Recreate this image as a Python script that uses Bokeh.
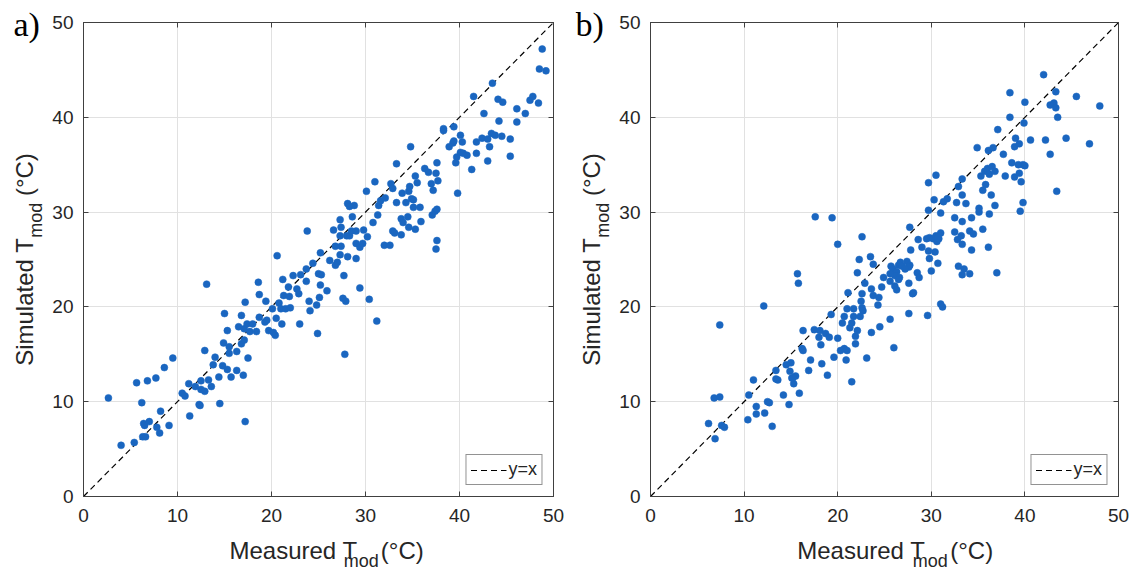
import math
from bokeh.plotting import figure
from bokeh.layouts import row, column
from bokeh.models import Range1d, FixedTicker, LinearAxis
from bokeh.core.properties import value
from bokeh.embed import file_html
from bokeh.resources import INLINE

# ---------------- data ----------------
a_measured = [2.65, 4.0, 5.4, 5.65, 6.2, 6.4, 6.5, 6.3, 6.6, 6.8, 7.0, 7.7, 7.8, 8.1, 8.2, 8.6, 9.1, 9.5,
              10.5, 10.8, 11.2, 11.3, 11.9, 12.3, 12.4, 12.5, 12.5, 12.9, 12.9, 13.1, 13.3, 13.6, 13.8, 14.0,
              14.4, 14.5, 14.8, 14.9, 15.0, 15.3, 15.3, 15.5, 15.5, 15.7, 16.3, 16.3, 16.5, 16.8, 16.8, 17.0,
              17.1, 17.1, 17.2, 17.2, 17.4, 17.5, 17.7, 18.0, 18.4, 18.6, 18.7, 18.7, 19.3, 19.4, 19.5, 19.7,
              20.1, 20.2, 20.4, 20.5, 20.8, 21.0, 21.1, 21.2, 21.3, 21.5, 21.8, 21.9, 22.0, 22.3, 22.7, 22.9,
              23.0, 23.1, 23.7, 24.0, 24.1, 24.8, 24.9, 25.0,
              20.6, 23.8, 23.7, 24.4, 25.2, 25.3, 25.2, 25.9, 25.1, 26.2, 26.6, 27.0, 26.8, 27.3, 27.4, 27.3,
              26.8, 27.3, 27.4, 27.7, 28.1, 28.3, 28.8, 28.6, 28.0, 28.3, 28.5, 29.0, 28.1, 29.0, 29.0, 29.4,
              29.7, 29.8, 30.2, 30.1, 31.0, 29.4, 30.4, 27.6, 27.9, 27.8, 31.2, 30.8, 31.3, 31.4, 31.6, 32.1,
              32.0, 32.6, 32.7, 32.9, 33.3, 33.3, 32.9, 33.1, 33.8, 33.9, 33.8, 34.0, 34.3, 34.6, 34.7, 34.5,
              34.6, 34.8, 34.9, 35.1, 35.1, 35.3, 35.3, 35.5, 35.8, 35.9, 36.3, 36.7, 37.0, 37.2, 37.1, 37.4,
              37.6, 37.5, 37.7, 37.6, 37.6, 37.5, 38.3, 38.9, 39.3, 39.4, 39.7, 39.6, 39.8,
              48.8, 48.5, 49.2, 43.5, 41.5, 44.1, 44.6, 47.5, 47.8, 48.4, 46.1, 47.0, 42.6, 44.2, 46.1, 38.3,
              39.4, 40.1, 40.3, 40.1, 40.4, 40.8, 41.3, 41.8, 41.8, 42.4, 43.0, 43.4, 43.8, 43.2, 43.0, 44.5,
              45.4, 45.4]
a_simulated = [10.4, 5.4, 5.7, 12.0, 9.9, 7.7, 7.5, 6.3, 6.3, 12.2, 7.9, 12.5, 7.3, 6.7, 9.0, 13.6, 7.5, 14.6,
               10.9, 10.6, 11.9, 8.5, 11.6, 9.7, 9.6, 12.2, 11.3, 15.4, 11.1, 22.4, 12.3, 11.6, 13.9, 14.7,
               12.6, 9.8, 13.8, 16.2, 19.3, 17.5, 13.4, 15.8, 15.1, 12.6, 13.3, 15.3, 17.9, 19.1, 16.1, 12.8,
               17.7, 16.5, 7.9, 20.5, 18.2, 14.6, 17.4, 18.2, 17.4, 22.6, 21.3, 18.9, 18.4, 20.6, 18.6, 17.5,
               19.8, 17.3, 17.0, 18.8, 20.4, 19.8, 18.2, 22.9, 21.2, 19.8, 22.1, 21.1, 19.9, 23.3, 21.9, 21.4,
               18.2, 23.4, 22.7, 20.6, 19.6, 20.2, 17.2, 23.5,
               25.4, 28.0, 24.0, 24.6, 25.7, 23.4, 22.3, 21.7, 21.0, 24.9, 28.1, 24.7, 24.4, 29.2, 28.4, 27.5,
               26.4, 25.5, 26.4, 23.3, 30.9, 30.6, 30.7, 29.5, 27.5, 27.5, 28.0, 28.0, 25.3, 25.1, 26.7, 26.3,
               26.7, 28.1, 27.4, 32.2, 33.2, 22.0, 20.8, 20.9, 20.6, 15.0, 18.5, 28.9, 29.7, 30.7, 31.2, 31.5,
               26.5, 26.5, 33.0, 32.5, 31.0, 35.1, 28.0, 27.8, 29.3, 32.0, 27.6, 28.9, 31.0, 32.2, 32.7, 29.5,
               28.4, 36.9, 31.4, 31.3, 30.5, 28.2, 33.8, 33.1, 30.5, 29.0, 34.6, 34.2, 33.0, 32.3, 29.7, 30.1,
               30.3, 34.1, 33.3, 35.2, 27.0, 26.1, 38.6, 36.9, 37.3, 37.5, 35.8, 35.2, 32.0,
               47.2, 45.1, 44.9, 43.6, 42.2, 41.9, 41.6, 41.8, 42.2, 41.5, 40.9, 40.4, 40.4, 39.6, 39.5, 38.8,
               39.0, 38.1, 37.4, 36.3, 36.2, 36.0, 34.5, 36.2, 37.4, 37.8, 37.7, 38.3, 38.1, 36.9, 35.4, 38.0,
               37.7, 35.9]

b_measured = [6.2, 6.9, 6.8, 7.4, 7.4, 7.6, 7.9, 10.4, 10.5, 11.0, 11.3, 11.3, 12.1, 12.2, 12.5, 12.7, 13.0,
              13.4, 13.6, 13.4, 14.2, 14.5, 14.8, 15.0, 14.9, 15.1, 15.3, 15.5, 15.2, 15.7, 15.8, 15.9, 16.2,
              16.3, 16.3, 16.9, 17.1, 17.5, 18.1, 18.0, 18.2, 18.3, 18.7, 18.9, 19.1, 19.3, 19.6, 20.0, 20.3,
              20.7, 21.0, 20.9, 21.5, 20.5, 20.7, 21.0, 21.1, 21.3, 21.5, 21.7, 21.7, 21.9, 21.9, 22.1, 22.3,
              22.1, 22.4, 22.5, 22.6, 22.6, 22.7, 22.9, 23.1, 23.5, 23.8, 23.6, 23.6, 23.8, 24.3, 24.4, 24.5,
              24.7, 24.9, 17.6,
              19.4, 20.0, 22.6, 25.7, 25.9, 26.5, 26.7, 26.9, 27.4, 27.7, 27.6, 27.2, 26.3, 26.1, 26.6, 26.5,
              25.6, 25.6, 26.1, 26.3, 27.6, 28.0, 28.1, 28.5, 28.7, 28.6, 27.8, 27.7, 29.0, 29.5, 29.8, 29.7,
              29.8, 30.2, 30.5, 30.6, 30.8, 31.0, 30.7, 30.4, 30.7, 30.0, 29.7, 30.3, 29.7, 30.5, 31.3, 31.7,
              31.0, 31.0, 31.2, 29.6, 27.6, 25.6, 26.0, 32.5, 33.3, 32.5, 33.2, 32.8, 33.3, 34.3, 34.1, 34.5,
              34.3, 32.9, 33.5, 33.3, 34.1, 35.5, 36.1, 37.0, 32.7, 32.9, 33.3, 33.3, 33.7, 35.1, 35.1, 35.3,
              35.5, 35.8, 36.4, 36.8, 36.2, 35.7, 36.0, 36.2, 36.5, 36.8, 37.9, 37.7, 38.6, 38.9, 39.3, 39.4,
              39.6, 39.5, 39.8, 39.8, 38.9, 39.4, 34.9, 36.1, 36.6,
              42.0, 38.4, 40.0, 43.3, 45.5, 48.0, 42.7, 43.1, 43.3, 43.5, 38.4, 39.9, 37.1, 39.0, 40.6, 42.2,
              44.4, 46.9, 42.7, 43.4, 40.0]
b_simulated = [7.7, 6.1, 10.4, 10.5, 18.1, 7.5, 7.3, 8.1, 10.7, 12.3, 9.5, 8.7, 20.1, 8.8, 10.0, 9.9, 7.4,
               13.3, 12.3, 12.4, 10.7, 13.9, 9.7, 14.1, 13.2, 12.5, 11.9, 12.7, 12.5, 23.5, 22.5, 10.9, 15.6,
               17.5, 15.4, 13.3, 14.4, 17.6, 17.5, 16.8, 16.0, 14.0, 17.2, 12.8, 16.8, 19.2, 14.7, 16.7, 15.4,
               15.6, 15.4, 14.4, 12.1, 18.3, 19.0, 19.8, 21.5, 17.8, 18.3, 19.8, 19.0, 16.9, 16.1, 23.6, 25.0,
               17.5, 19.0, 20.6, 21.4, 19.9, 19.6, 22.5, 14.6, 25.3, 24.5, 21.9, 17.3, 21.2, 20.2, 21.0, 17.9,
               22.1, 23.1, 29.5,
               29.4, 26.6, 27.4, 24.3, 24.0, 24.4, 24.7, 24.3, 24.8, 24.4, 24.2, 24.0, 23.7, 23.3, 23.1, 22.9,
               23.5, 22.7, 22.2, 21.8, 22.5, 21.4, 21.5, 23.6, 23.1, 27.1, 26.0, 28.4, 26.3, 27.2, 25.1, 25.9,
               27.3, 27.2, 27.5, 26.9, 27.2, 27.8, 27.3, 25.8, 24.6, 23.8, 30.2, 31.3, 33.1, 33.9, 31.1, 31.4,
               29.9, 20.3, 20.0, 19.1, 19.3, 18.7, 15.7, 29.4, 29.0, 27.9, 27.5, 27.1, 26.6, 26.0, 28.0, 27.7,
               29.4, 24.3, 24.0, 23.4, 23.5, 28.2, 26.3, 23.6, 31.0, 32.7, 31.8, 33.5, 30.9, 30.4, 30.0, 33.8,
               32.3, 32.9, 31.8, 30.7, 29.8, 34.3, 34.6, 34.0, 34.8, 34.3, 33.8, 36.1, 35.2, 33.7, 35.0, 34.1,
               33.2, 30.1, 31.0, 35.0, 36.9, 37.2, 36.8, 36.5, 36.8,
               44.5, 42.6, 41.6, 42.7, 42.2, 41.2, 41.3, 41.5, 41.0, 40.0, 40.0, 39.4, 38.7, 37.8, 37.6, 37.6,
               37.8, 37.2, 36.1, 32.2, 34.9]

axis_ticks = [0, 10, 20, 30, 40, 50]
identity_line = [0, 50]
panel_letters = ["a)", "b)"]
x_label_parts = ["Measured T", "mod", "(°C)"]
y_label_parts = ["Simulated T", "mod", "(°C)"]
legend_text = "y=x"

# ---------------- style ----------------
BLUE = "#1a66c0"
AX = "#404040"
TXT = "#262626"
FONT = "Liberation Sans"
F_MAIN = 24
F_SUB = 18
F_TICK = 19
TOTAL_H = 575
TOP = 22
FRAME_H = 474
BOTTOM = 36
MAIN_H = TOP + FRAME_H + BOTTOM
STRIP_H = TOTAL_H - MAIN_H
K = 0.36  # empirical baseline correction (fraction of font size)

ARIAL = {"M": 833, "e": 556, "a": 556, "s": 500, "u": 556, "r": 333, "d": 556, " ": 278, "T": 611,
         "m": 833, "o": 556, "(": 333, "°": 400, "C": 722, ")": 333, "S": 667, "i": 222, "l": 222,
         "t": 278}


def tw(s, size):
    return sum(ARIAL.get(c, 556) for c in s) / 1000.0 * size


def blank(width, height):
    f = figure(width=width, height=height, output_backend="svg", toolbar_location=None,
               x_range=Range1d(0, width), y_range=Range1d(0, height),
               x_axis_type=None, y_axis_type=None)
    f.min_border = 0
    f.outline_line_color = None
    f.background_fill_color = "white"
    f.border_fill_color = "white"
    return f


def txt(f, x, y, s, size, font=FONT, color=TXT, angle=0.0):
    f.text(x=[x], y=[y], text=[s], text_font=value(font), text_font_size=value(f"{size}px"),
           text_color=color, text_align="left", text_baseline="alphabetic", angle=angle)


def main_panel(xs, ys, border_right, frame_w):
    p = figure(width=35 + frame_w + border_right, height=MAIN_H, output_backend="svg",
               toolbar_location=None, x_range=Range1d(0, 50), y_range=Range1d(0, 50))
    p.min_border_left = 35
    p.min_border_right = border_right
    p.min_border_top = TOP
    p.min_border_bottom = BOTTOM
    p.background_fill_color = "white"
    p.border_fill_color = "white"
    p.outline_line_color = AX
    p.outline_line_width = 1

    for ax in (p.xaxis[0], p.yaxis[0]):
        ax.ticker = FixedTicker(ticks=axis_ticks)
        ax.major_tick_in = 5
        ax.major_tick_out = 0
        ax.minor_tick_line_color = None
        ax.axis_line_color = AX
        ax.major_tick_line_color = AX
        ax.major_label_text_font = FONT
        ax.major_label_text_font_size = f"{F_TICK}px"
        ax.major_label_text_color = TXT
    p.xaxis[0].major_label_standoff = 12
    p.yaxis[0].major_label_standoff = 10
    for place in ("above", "right"):
        ax2 = LinearAxis(ticker=FixedTicker(ticks=axis_ticks), major_tick_in=5, major_tick_out=0,
                         minor_tick_line_color=None, axis_line_color=AX,
                         major_tick_line_color=AX, major_label_text_color=None,
                         major_label_standoff=0)
        p.add_layout(ax2, place)

    p.xgrid.ticker = FixedTicker(ticks=axis_ticks)
    p.ygrid.ticker = FixedTicker(ticks=axis_ticks)
    p.xgrid.grid_line_color = "#e1e1e1"
    p.ygrid.grid_line_color = "#e1e1e1"

    p.line(identity_line, identity_line, line_color="black", line_dash="6 4", line_width=1.2,
           legend_label=legend_text)
    p.scatter(xs, ys, size=7, fill_color=BLUE, line_color=BLUE, line_width=0.5)

    lg = p.legend[0]
    lg.location = "bottom_right"
    lg.margin = 11
    lg.padding = 4
    lg.spacing = 0
    lg.glyph_width = 36
    lg.glyph_height = 18
    lg.label_height = 18
    lg.label_standoff = 2
    lg.label_text_font = FONT
    lg.label_text_font_size = "18px"
    lg.label_text_color = TXT
    lg.border_line_color = TXT
    lg.border_line_width = 1
    lg.background_fill_alpha = 1.0
    return p


def left_strip(width, letter, letter_x, base_x):
    f = blank(width, TOTAL_H)
    txt(f, letter_x, TOTAL_H - 36 + K * 34, letter, 34, font="Liberation Serif", color="black")
    center = TOTAL_H - (TOP + FRAME_H / 2)
    sp = tw(" ", F_MAIN)
    tot = tw(y_label_parts[0], F_MAIN) + tw(y_label_parts[1], F_SUB) + sp + tw(y_label_parts[2], F_MAIN)
    yy = center - tot / 2
    for s, fs, dx, gap in [(y_label_parts[0], F_MAIN, 0, 0), (y_label_parts[1], F_SUB, 9, sp),
                           (y_label_parts[2], F_MAIN, 0, 0)]:
        txt(f, base_x + dx - K * fs, yy, s, fs, angle=math.pi / 2)
        yy += tw(s, fs) + gap
    return f


def bottom_strip(width, center_x):
    f = blank(width, STRIP_H)
    sp = tw(" ", F_MAIN)
    tot = tw(x_label_parts[0], F_MAIN) + tw(x_label_parts[1], F_SUB) + sp + tw(x_label_parts[2], F_MAIN)
    xx = center_x - tot / 2
    base = TOTAL_H - 559
    for s, fs, dy, gap in [(x_label_parts[0], F_MAIN, 0, 0), (x_label_parts[1], F_SUB, -8, sp),
                           (x_label_parts[2], F_MAIN, 0, 0)]:
        txt(f, xx, base + dy + K * fs, s, fs)
        xx += tw(s, fs) + gap
    return f


# panel a : page x 0..575, frame 83..553
La = left_strip(48, panel_letters[0], 13, 33)
Ma = main_panel(a_measured, a_simulated, 22, 470)
Ba = bottom_strip(Ma.width, 35 + 470 / 2)

# panel b : page x 575..1134, frame 650..1118
Lb = left_strip(40, panel_letters[1], 0, 25)
Mb = main_panel(b_measured, b_simulated, 16, 468)
Bb = bottom_strip(Mb.width, 35 + 468 / 2)

layout = row(La, column(Ma, Ba), Lb, column(Mb, Bb))
open("out.html", "w").write(file_html(layout, INLINE))
